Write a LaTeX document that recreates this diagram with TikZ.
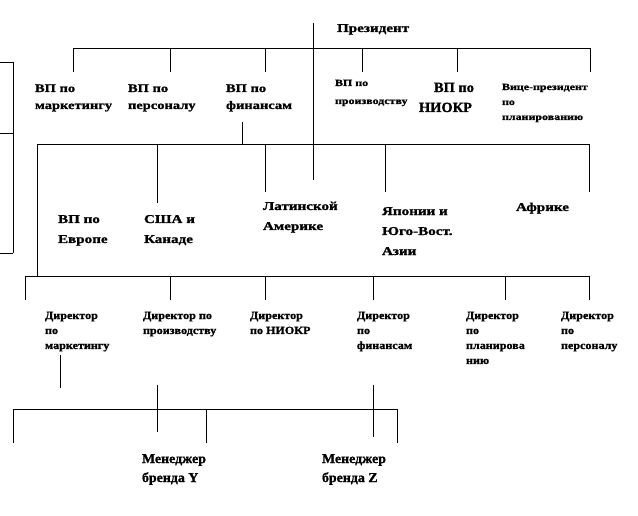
\documentclass[tikz,border=0pt]{standalone}
\usepackage{fontspec}
\setmainfont{Liberation Serif}
\newfontfamily\fwide{Liberation Serif}[FakeStretch=1.26,BoldFeatures={FakeBold=1.2}]
\newfontfamily\fmid{Liberation Serif}[FakeStretch=1.1,BoldFeatures={FakeBold=1.2}]
\newfontfamily\fnorm{Liberation Serif}[FakeStretch=1.03,BoldFeatures={FakeBold=1.2}]
\newcommand\lns[1]{\vtop{#1}}
\begin{document}
\begin{tikzpicture}[x=1pt,y=-1pt,
  ln/.style={line width=0.9pt,black},
  lbl/.style={anchor=base west,inner sep=0pt,outer sep=0pt},
  tA/.style={lbl,font=\fwide\bfseries\fontsize{11.5}{17}\selectfont},
  tP/.style={lbl,font=\fwide\bfseries\fontsize{9.5}{18}\selectfont},
  tV/.style={lbl,font=\fwide\bfseries\fontsize{9.5}{15}\selectfont},
  tN/.style={lbl,font=\fnorm\bfseries\fontsize{14}{20}\selectfont},
  tR/.style={lbl,font=\fwide\bfseries\fontsize{12}{20}\selectfont},
  tD/.style={lbl,font=\fmid\bfseries\fontsize{11}{15}\selectfont},
  tM/.style={lbl,font=\fnorm\bfseries\fontsize{13.5}{19}\selectfont}]
\fill[white] (0,0) rectangle (638,516);
\useasboundingbox (0,0) rectangle (638,516);

% ---- texts ----
\node[tR] (pres) at (337,32) {Президент};
\node[tA] (vpm) at (35,92) {\lns{\hbox{ВП по}\hbox{маркетингу}}};
\node[tA] (vpp) at (128,92) {\lns{\hbox{ВП по}\hbox{персоналу}}};
\node[tA] (vpf) at (226,92) {\lns{\hbox{ВП по}\hbox{финансам}}};
\node[tP] (vpr) at (335,86) {\lns{\hbox{ВП по}\hbox{производству}}};
\node[tN] (vpn) at (419,92) {\lns{\hbox{\hskip15pt ВП по}\hbox{НИОКР}}};
\node[tV] (vpv) at (502,90) {\lns{\hbox{Вице-президент}\hbox{по}\hbox{планированию}}};

\node[tR] (eu) at (58,223) {\lns{\hbox{ВП по}\hbox{Европе}}};
\node[tR] (us) at (144,223) {\lns{\hbox{США и}\hbox{Канаде}}};
\node[tR] (la) at (263,210) {\lns{\hbox{Латинской}\hbox{Америке}}};
\node[tR] (as) at (382,215) {\lns{\hbox{Японии и}\hbox{Юго-Вост.}\hbox{Азии}}};
\node[tR] (af) at (516,211) {Африке};

\node[tD] (dm) at (45,319) {\lns{\hbox{Директор}\hbox{по}\hbox{маркетингу}}};
\node[tD] (dp) at (143,319) {\lns{\hbox{Директор по}\hbox{производству}}};
\node[tD] (dn) at (250,319) {\lns{\hbox{Директор}\hbox{по НИОКР}}};
\node[tD] (df) at (357,319) {\lns{\hbox{Директор}\hbox{по}\hbox{финансам}}};
\node[tD] (dl) at (466,319) {\lns{\hbox{Директор}\hbox{по}\hbox{планирова}\hbox{нию}}};
\node[tD] (ds) at (561,319) {\lns{\hbox{Директор}\hbox{по}\hbox{персоналу}}};

\node[tM] (my) at (142,463) {\lns{\hbox{Менеджер}\hbox{бренда Y}}};
\node[tM] (mz) at (322,463) {\lns{\hbox{Менеджер}\hbox{бренда Z}}};

% ---- connectors ----
% president
\coordinate (pT) at (313,23); \coordinate (pB) at (313,180);
\draw[ln] (pT) -- (pB);
% first bar
\coordinate (b1L) at (73,48); \coordinate (b1R) at (590,48);
\draw[ln] (b1L) -- (b1R);
\foreach \x [count=\i] in {73,170,265,362,457,590}{
  \coordinate (e1\i) at (\x,72);
  \draw[ln] (e1\i |- b1L) -- (e1\i);
}
% from VP finance to second bar
\coordinate (fT) at (242,122); \coordinate (b2L) at (37,144); \coordinate (b2R) at (589,144);
\draw[ln] (fT) -- (fT |- b2L);
\draw[ln] (b2L) -- (b2R);
\coordinate (e21) at (157,203); \coordinate (e22) at (265,192);
\coordinate (e23) at (385,192); \coordinate (e24) at (589,192);
\foreach \i in {1,...,4}{ \draw[ln] (e2\i |- b2L) -- (e2\i); }
% third bar
\coordinate (b3L) at (25,276); \coordinate (b3R) at (589,276);
\draw[ln] (b2L) -- (b2L |- b3L);
\draw[ln] (b3L) -- (b3R);
\foreach \x [count=\i] in {25,170,265,373,505,589}{
  \coordinate (e3\i) at (\x,300);
  \draw[ln] (e3\i |- b3L) -- (e3\i);
}
% lower part
\coordinate (mT) at (60,355); \coordinate (mB) at (60,388);
\draw[ln] (mT) -- (mB);
\coordinate (yT) at (157,385); \coordinate (yB) at (157,432);
\draw[ln] (yT) -- (yB);
\coordinate (zT) at (373,385); \coordinate (zB) at (373,437);
\draw[ln] (zT) -- (zB);
\coordinate (b4L) at (13,409); \coordinate (b4R) at (397,409);
\draw[ln] (b4L) -- (b4R);
\foreach \x [count=\i] in {13,206,397}{
  \coordinate (e4\i) at (\x,443);
  \draw[ln] (e4\i |- b4L) -- (e4\i);
}
% left bracket
\coordinate (kT) at (13,62); \coordinate (kM) at (13,133); \coordinate (kB) at (13,253);
\draw[ln] (kT) -- (kB);
\foreach \c in {kT,kM,kB}{ \draw[ln] (\c) -- (\c -| 0,0); }
\end{tikzpicture}
\end{document}
